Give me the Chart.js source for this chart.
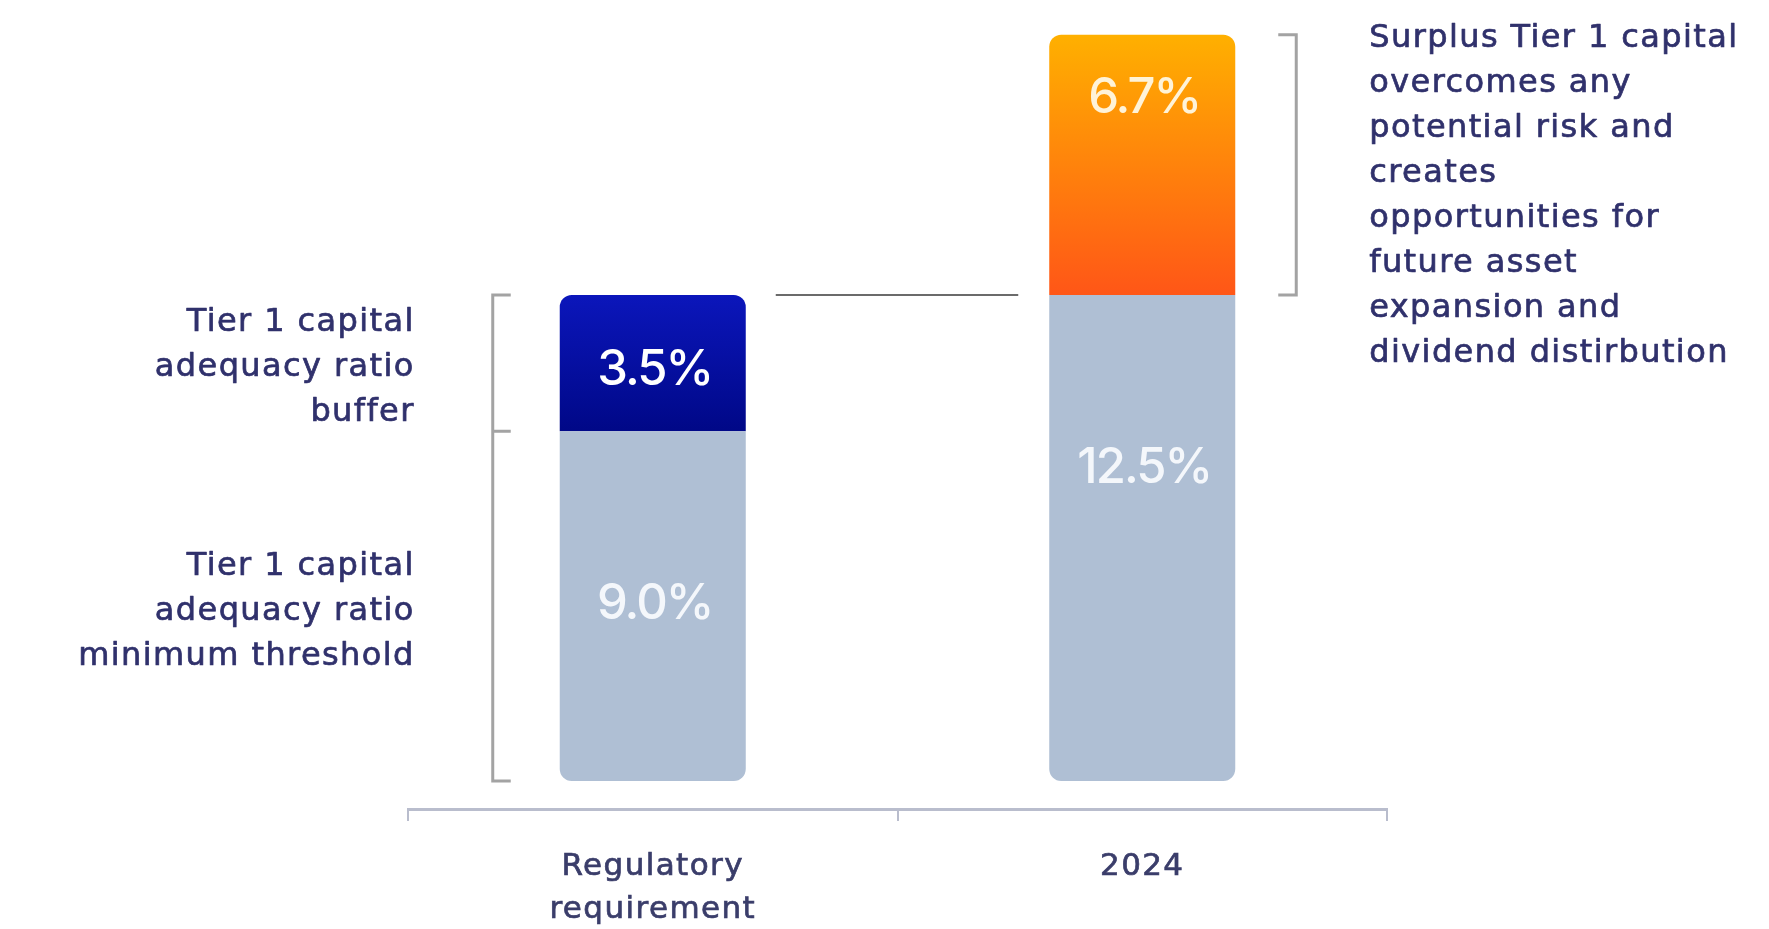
<!DOCTYPE html>
<html>
<head>
<meta charset="utf-8">
<script src="https://cdn.jsdelivr.net/npm/chart.js@4.4.1/dist/chart.umd.min.js"></script>
<style>
  html, body { margin: 0; padding: 0; background: #ffffff; }
  #wrap { width: 1769px; height: 929px; position: relative; }
</style>
</head>
<body>
<div id="wrap"><canvas id="c"></canvas></div>
<script>
// Tier 1 capital adequacy: regulatory requirement vs 2024
const categories = [['Regulatory', 'requirement'], '2024'];
const minimumThreshold = [9.0, 12.5];
const bufferRatio = [3.5, null];
const surplusCapital = [null, 6.7];

const bufferNote = ['Tier 1 capital', 'adequacy ratio', 'buffer'];
const thresholdNote = ['Tier 1 capital', 'adequacy ratio', 'minimum threshold'];
const surplusNote = ['Surplus Tier 1 capital', 'overcomes any', 'potential risk and', 'creates',
  'opportunities for', 'future asset', 'expansion and', 'dividend distirbution'];

const TEXT_FONT = '"DejaVu Sans", sans-serif';
const VALUE_FONT = 'Inter, "Open Sans", sans-serif';
const TRACKING = '1.4px';
const NAVY = '#30316c';
const BRACKET = '#a3a3a3';

// vertical gradient spanning a stacked segment
function segmentGradient(ctx, chart, from, to, top, bottom) {
  const area = chart.chartArea;
  if (!area) return bottom;
  const y = chart.scales.y;
  const g = ctx.createLinearGradient(0, y.getPixelForValue(to), 0, y.getPixelForValue(from));
  g.addColorStop(0, top);
  g.addColorStop(1, bottom);
  return g;
}

const labelOffset = [173, 75, 64];
const labelColor = ['rgba(248,250,253,0.95)', '#ffffff', '#fff3d8'];

// wider tracking for the axis labels drawn by the library
const tracking = {
  id: 'tracking',
  beforeDraw(chart) { if ('letterSpacing' in chart.ctx) chart.ctx.letterSpacing = TRACKING; },
  afterDraw(chart) { if ('letterSpacing' in chart.ctx) chart.ctx.letterSpacing = '0px'; }
};

const annotations = {
  id: 'annotations',
  afterDatasetsDraw(chart) {
    const ctx = chart.ctx;
    const base = chart.getDatasetMeta(0).data;
    const buf = chart.getDatasetMeta(1).data;
    const sur = chart.getDatasetMeta(2).data;
    const L = base[0], R = base[1];
    const lLeft = L.x - L.width / 2, lRight = L.x + L.width / 2;
    const rLeft = R.x - R.width / 2, rRight = R.x + R.width / 2;

    // value labels inside the segments
    ctx.save();
    ctx.textAlign = 'center';
    ctx.textBaseline = 'middle';
    ctx.font = '500 49px ' + VALUE_FONT;
    if ('letterSpacing' in ctx) ctx.letterSpacing = '-2px';
    [minimumThreshold, bufferRatio, surplusCapital].forEach((vals, di) => {
      const els = chart.getDatasetMeta(di).data;
      vals.forEach((v, i) => {
        if (v === null || v === undefined) return;
        const el = els[i];
        ctx.fillStyle = labelColor[di];
        ctx.fillText(v.toFixed(1) + '%', el.x + 2, el.y + labelOffset[di]);
      });
    });
    ctx.restore();

    ctx.save();
    ctx.strokeStyle = BRACKET;
    ctx.lineWidth = 3;
    ctx.lineCap = 'butt';
    // left bracket: buffer + minimum threshold
    const bx = lLeft - 67;
    const top = buf[0].y, mid = buf[0].base, bot = L.base;
    ctx.beginPath();
    ctx.moveTo(bx + 18, top); ctx.lineTo(bx, top); ctx.lineTo(bx, bot); ctx.lineTo(bx + 18, bot);
    ctx.moveTo(bx, mid); ctx.lineTo(bx + 18, mid);
    ctx.stroke();
    // right bracket: surplus
    const rx = rRight + 61;
    ctx.beginPath();
    ctx.moveTo(rx - 18, sur[1].y); ctx.lineTo(rx, sur[1].y); ctx.lineTo(rx, sur[1].base); ctx.lineTo(rx - 18, sur[1].base);
    ctx.stroke();
    // connector at the required level
    ctx.strokeStyle = '#6b6b6b';
    ctx.lineWidth = 2;
    ctx.beginPath();
    ctx.moveTo(lRight + 30, buf[0].y);
    ctx.lineTo(rLeft - 31, buf[0].y);
    ctx.stroke();
    ctx.restore();

    // notes
    ctx.save();
    ctx.fillStyle = NAVY;
    ctx.strokeStyle = NAVY;
    ctx.lineWidth = 0.7;
    ctx.lineJoin = 'round';
    ctx.font = '32px ' + TEXT_FONT;
    if ('letterSpacing' in ctx) ctx.letterSpacing = TRACKING;
    ctx.textBaseline = 'middle';
    const lh = 45;
    const put = (t, x, y) => { ctx.fillText(t, x, y); ctx.strokeText(t, x, y); };
    ctx.textAlign = 'right';
    const drawBlock = (lines, x, cy) => {
      const y0 = cy - (lines.length - 1) * lh / 2;
      lines.forEach((t, i) => put(t, x, y0 + i * lh));
    };
    drawBlock(bufferNote, lLeft - 145, (buf[0].y + buf[0].base) / 2 + 5);
    drawBlock(thresholdNote, lLeft - 145, (L.y + L.base) / 2 + 6);
    ctx.textAlign = 'left';
    surplusNote.forEach((t, i) => put(t, rRight + 134, sur[1].y + 4 + i * lh));
    ctx.restore();
  }
};

new Chart(document.getElementById('c'), {
  type: 'bar',
  data: {
    labels: categories,
    datasets: [
      {
        label: 'Minimum threshold',
        data: minimumThreshold,
        backgroundColor: '#afbfd4',
        borderRadius: { topLeft: 0, topRight: 0, bottomLeft: 12, bottomRight: 12 },
        borderSkipped: false
      },
      {
        label: 'Buffer',
        data: bufferRatio,
        backgroundColor: (c) => segmentGradient(c.chart.ctx, c.chart, minimumThreshold[0], minimumThreshold[0] + bufferRatio[0], '#0b16bb', '#000887'),
        borderRadius: { topLeft: 12, topRight: 12, bottomLeft: 0, bottomRight: 0 },
        borderSkipped: false
      },
      {
        label: 'Surplus',
        data: surplusCapital,
        backgroundColor: (c) => segmentGradient(c.chart.ctx, c.chart, minimumThreshold[1], minimumThreshold[1] + surplusCapital[1], '#ffb000', '#ff5617'),
        borderRadius: { topLeft: 12, topRight: 12, bottomLeft: 0, bottomRight: 0 },
        borderSkipped: false
      }
    ]
  },
  options: {
    responsive: true,
    maintainAspectRatio: false,
    animation: false,
    layout: { padding: { left: 408, right: 382, top: 23, bottom: 0 } },
    datasets: { bar: { categoryPercentage: 1, barPercentage: 0.38 } },
    plugins: { legend: { display: false }, tooltip: { enabled: false } },
    scales: {
      x: {
        stacked: true,
        offset: true,
        border: { display: true, color: '#b9bdcd', width: 3 },
        grid: { display: true, offset: true, drawOnChartArea: false, drawTicks: true, tickLength: 12, color: '#b9bdcd', lineWidth: 2 },
        ticks: {
          color: '#3a3d6a', padding: 25, maxRotation: 0,
          textStrokeColor: '#3a3d6a', textStrokeWidth: 0.7,
          font: { family: TEXT_FONT, size: 31, weight: 'normal', lineHeight: 1.38 }
        },
        afterFit(scale) { scale.height = 120; }
      },
      y: {
        stacked: true,
        display: false,
        min: -0.72,
        max: 19.5
      }
    }
  },
  plugins: [tracking, annotations]
});
</script>
</body>
</html>
